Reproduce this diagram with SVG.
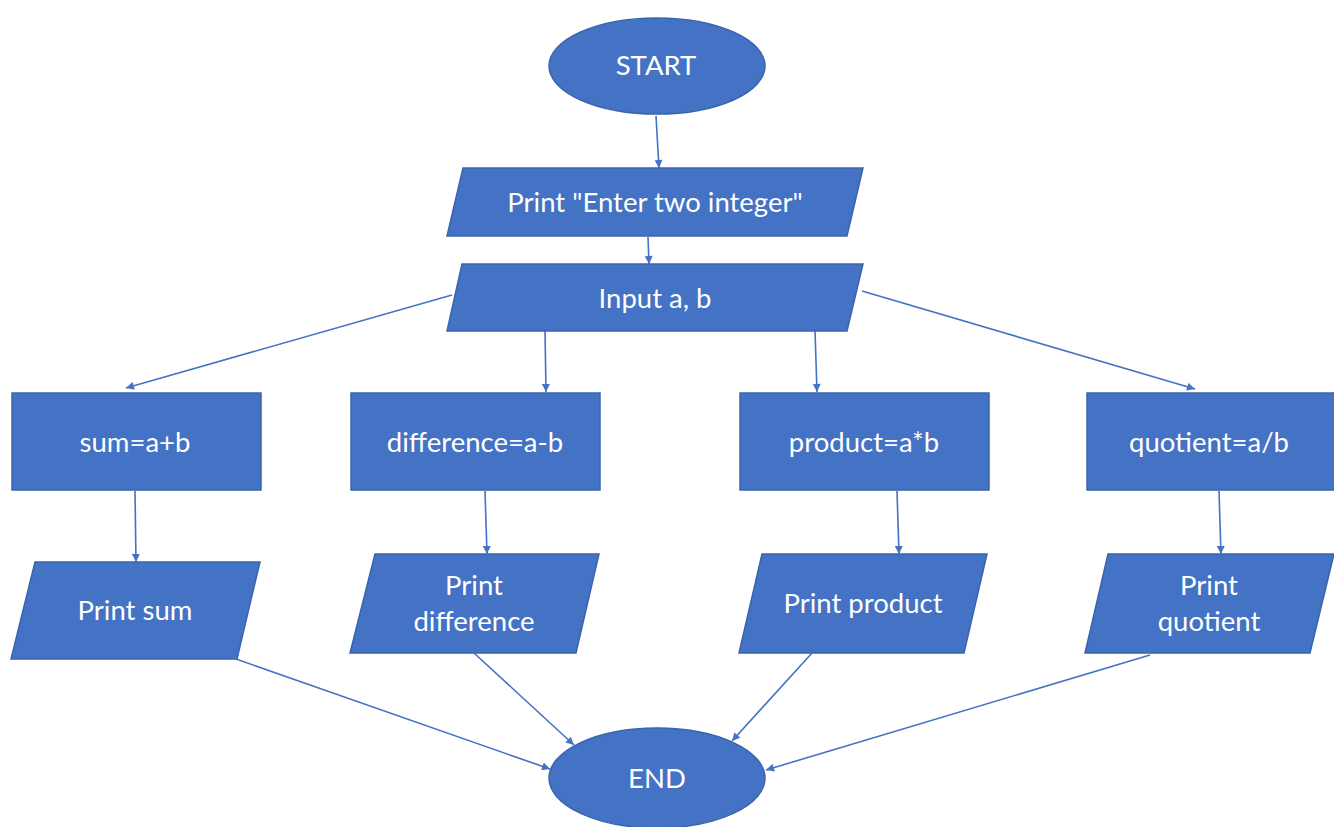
<svg xmlns="http://www.w3.org/2000/svg" width="1334" height="827" viewBox="0 0 1334 827">
<defs>
<style>
.s{fill:#4472C4;stroke:#3A64AE;stroke-width:1.5}
.t{fill:#FFFFFF;font-family:Lato,"Open Sans",sans-serif;font-size:27.5px;text-anchor:middle;dominant-baseline:central}
.c{stroke:#4472C4;stroke-width:1.6;fill:none;marker-end:url(#ah)}
</style>
<marker id="ah" viewBox="0 0 10 10" refX="10" refY="5" markerWidth="9" markerHeight="8" orient="auto" markerUnits="userSpaceOnUse">
<path d="M0,0 L10,5 L0,10 z" fill="#4472C4"/>
</marker>
</defs>
<rect width="1334" height="827" fill="#FFFFFF"/>
<g id="connectors">
<line class="c" x1="656" y1="116" x2="659" y2="168"/>
<line class="c" x1="648" y1="237" x2="649" y2="264"/>
<line class="c" x1="452" y1="295" x2="126" y2="388"/>
<line class="c" x1="545" y1="331" x2="546" y2="392"/>
<line class="c" x1="815" y1="331" x2="817" y2="392"/>
<line class="c" x1="862" y1="291" x2="1195" y2="389"/>
<line class="c" x1="135" y1="491" x2="136" y2="562"/>
<line class="c" x1="485" y1="491" x2="487" y2="554"/>
<line class="c" x1="897" y1="491" x2="899" y2="554"/>
<line class="c" x1="1219" y1="491" x2="1221" y2="554"/>
<line class="c" x1="236" y1="659" x2="550" y2="769"/>
<line class="c" x1="474" y1="653" x2="574" y2="745"/>
<line class="c" x1="812" y1="653" x2="732" y2="741"/>
<line class="c" x1="1150" y1="655" x2="766" y2="770"/>
</g>
<g id="start"><ellipse class="s" cx="657" cy="66" rx="108" ry="48"/><text class="t" x="656" y="64">START</text></g>
<g id="print-enter"><polygon class="s" points="463,168 863,168 847,236 447,236"/><text class="t" x="655" y="201">Print "Enter two integer"</text></g>
<g id="input"><polygon class="s" points="462,264 863,264 847,331 447,331"/><text class="t" x="655" y="297">Input a, b</text></g>
<g id="sum"><rect class="s" x="12" y="393" width="249" height="97"/><text class="t" x="135" y="441">sum=a+b</text></g>
<g id="difference"><rect class="s" x="351" y="393" width="249" height="97"/><text class="t" x="475" y="441">difference=a-b</text></g>
<g id="product"><rect class="s" x="740" y="393" width="249" height="97"/><text class="t" x="864" y="441">product=a*b</text></g>
<g id="quotient"><rect class="s" x="1087" y="393" width="249" height="97"/><text class="t" x="1209" y="441">quotient=a/b</text></g>
<g id="print-sum"><polygon class="s" points="35,562 260,562 237,659 11,659"/><text class="t" x="135" y="609">Print sum</text></g>
<g id="print-difference"><polygon class="s" points="375,554 599,554 576,653 350,653"/><text class="t" x="474" y="584">Print</text><text class="t" x="474" y="620">difference</text></g>
<g id="print-product"><polygon class="s" points="762,554 987,554 964,653 739,653"/><text class="t" x="863" y="602">Print product</text></g>
<g id="print-quotient"><polygon class="s" points="1108,554 1334,554 1310,653 1085,653"/><text class="t" x="1209" y="584">Print</text><text class="t" x="1209" y="620">quotient</text></g>
<g id="end"><ellipse class="s" cx="657" cy="778" rx="108" ry="50"/><text class="t" x="657" y="777">END</text></g>
</svg>
